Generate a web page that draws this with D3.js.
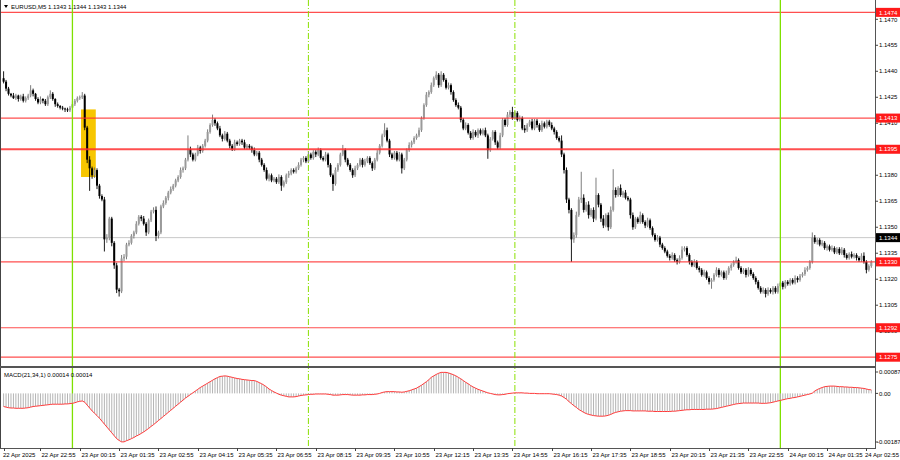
<!DOCTYPE html>
<html><head><meta charset="utf-8">
<script src="https://cdn.jsdelivr.net/npm/d3@7/dist/d3.min.js"></script>
<style>body{margin:0;background:#fff;}svg{display:block;font-family:"Liberation Sans",Arial,sans-serif;}</style>
</head><body><svg id="c" width="900" height="460"></svg>
<script>
// ---------------- data ----------------
const symbolTitle = "EURUSD,M5";
const headerQuote = "1.1343 1.1344 1.1343 1.1344";
const macdTitle = "MACD(21,34,1) 0.00014 0.00014";
const firstBarTime = "2025-04-22T21:40";
const barMinutes = 5;
const basePrice = 1.13;           // closes are pips above this
const firstOpenPips = 136;
const closePips = [
134,130,127,126,124.5,126,124,125.5,123,124.5,
126,129,127,124,122,124,123,121,125,127,
124,121,120,119,118.5,118,117.5,119,121,123,
124.5,125,126,107.5,89,84,80,83,74,68,
66,43,44,55,41,28,14,13,32,33,
40,41,45,47,52,56,55,52,47,54,
59,60,45,47,62,64,67,70,72,74,
77,79,83,84,89,95,92,89,92,96,
94,97,100,105,109,112,110,107,103,101,
104,100,97,95,99,98,100,99,96,97,
96,94.5,92,93,89,86,83,78,80,77,
78,76,79,74,76,80,81,83,82,84,
86,89,90,88,92,90,93.5,92,94.5,90,
89,92,86,80,75,83,86,92,94.5,89,
86,83,80,84,86,89,86,88,90,87,
84,89,93,97,103,106,100,92,90,93,
89,92,84,89,94.5,97.5,99,101.5,103,106,
113,120.5,126.5,128,132,136,138,132,138,135,
130.5,132,128,123.4,120.5,119,112,107,109,104.5,
101.5,105,103,106,104,106,103,94.5,101,105,
99,96,103,112,109,115,116.5,113,116,112,
113,107,106,109,111,107,111.5,109,106,110,
108,111,109,107,105,101.5,100,92,83,66,
60,43,45.5,57,66,67,60,63,57,60,
55,68.6,63,55,51,57,50,60,71.5,68.6,
72.7,68.6,70,67,66,57,50,55,53,57,
53,51,54,49.5,45.6,42.7,44,40,38,36,
33.5,32.3,34,31,30,32.3,37,38,34,30,
28,30,26.5,25.4,22.5,24,20.7,18.5,19.6,22.5,
25.4,22.5,24,20.7,23.5,26.5,28.2,30,31,26.5,
24,25.4,22.5,25.4,23,20.7,18.5,15,12.7,13.8,
11.5,13.8,12.7,15,12.7,16,18,15.6,18.5,17.3,
19.6,18,20.7,19.6,22,23,25.4,26.5,30,44,
41.5,42.7,40,41,38,39,37,38,35.5,37.5,
35,37,34,32.3,34.5,33,34,32.3,31,33.5,
30,25.4,27.6,30];
const upperWick = [
4,1,1,.5,1.5,1,.5,1,1.5,1,
1,3,1,.5,1,1.5,.5,1,1,2,
1,.5,1,.5,1,.5,1,1,1.5,1,
1,1,2,1,1,2,1,1.5,1,1,
1,1.5,2,1,1,1,1.5,1,2,1.5,
1,1.5,1,1,1.5,1,1,1.5,1,1,
1,1.5,2,1,1,1.5,1,1,1.5,1,
1,1,1.5,1,1,8,1.5,1,1,1.5,
1,1,1,1.5,1,3,1,1,1.5,1,
1.5,1,1,1,1.5,1,1,1,1.5,1,
1,1,1.5,1,1,1,1,1.5,1,1,
1,1,1.5,1,1,1,1.5,1,1,1,
1.5,1,1,1,2,1,1,1,1.5,1,
1,1.5,1,1,1,1.5,1,1,3,1,
1,1,1,1.5,1,1,1,1.5,1,1,
1,1,1.5,1,1,4,1.5,1,1,1,
1,1.5,1,1,1,1.5,1,1,1,1.5,
1,1,1.5,1,1.5,1,2,1,2,1,
1,1.5,1,1,1,1.5,1,1,1.5,1,
1,1.5,1,1,1,1,1.5,1,1,1,
1,1,1.5,1,1,1.5,1,3,1,1,
1.5,1,2,1,1,1.5,1,1,1,1.5,
1,1,1,1.5,1,1,1,3,1,1.5,
1,1,1.5,2,1.5,15,2,1.5,2,1,
1.5,10,1,1,2,1,1.5,2,12,1.5,
1,2,1,1.5,1,1,1.5,1,1,2,
1,1,1.5,1,1,1,1.5,1,1,1,
1,1,1.5,1,1,1.5,2,1,1,1,
1,1.5,1,1,1,1.5,1,1,1,1,
1.5,1,1,1,1.5,1,1,1,2,1,
1,1,1,1.5,1,1,1,1,1,1.5,
1,1.5,1,1,1,1.5,1,1,1,1,
1,1,1.5,1,1,1,1.5,1,1,3,
1.5,1,1,1.5,1,1,1,1.5,1,1,
1,1.5,1,1,1,1.5,1,1,1,1.5,
2,1,1,1];
const lowerWick = [
1,1.5,1,1,.5,1,1.5,1,1,1,
1,1,1.5,1,1,1,1.5,1,1,1,
1,1.5,1,1,1,1.5,1,1,1,1,
1,1,1,1.5,2,13,2,1.5,2,1.5,
1,7,2,1.5,2,2,2,3,1,1.5,
1.5,1,1,1.5,1,1,1.5,1,2,1,
1,1,3,1.5,1,1,1,1.5,1,1,
1,1,1,1.5,1,1,1.5,1,1,1,
1.5,1,1,1,1,1,1.5,1,1,1.5,
1,1,1.5,1,1,1,1,1.5,1,1,
1,1.5,1,1,1.5,1,1,1,1.5,1,
1,1,1,3,1,1,1.5,1,1,1,
1,1,1.5,1,1,1,1,1.5,1,1,
1,1,1.5,1,4,1,1,1,1,1.5,
1,1,1.5,1,1,1,1.5,1,1,1,
1.5,1,1,1,1,1,1,1.5,1,1,
1,1,3,1,1,1,1.5,1,1,1,
1,1,1,1.5,1,1,1,1.5,1,1,
1,1,1.5,1,1,1,1.5,1,1,1,
1,1,1,1.5,1,1,1,5,1,1,
1.5,1,1,1,1,1,1.5,1,1,1,
1,1,1.5,1,1,1,1,1.5,1,1,
1,1,1,1,1.5,1,1,1.5,2,2,
2,13,2,1.5,1,2,1.5,1,2,1,
2,1,1.5,2,1.5,1,2,1,1,1.5,
1,1,1.5,1,1,2,1.5,1,1,1,
1,1.5,1,1,1,1,1,1.5,1,1,
1,1.5,1,1,1.5,1,1,1,1,1.5,
1,1,1,1.5,1,1,1,1.5,4,1,
1,1.5,1,1,1,1,1.5,1,1,1,
1,1,1.5,1,1,1,1.5,1,1,1,
2,1,1,1.5,1,1,1,1.5,1,1,
1,1,1,1.5,1,1,1,1,1,1,
1,1.5,1,1,1,1.5,1,1,1,1,
1,1,1.5,1,1,1,1,1.5,1,1,
1,2,1,1];
const macdValues = [ // units of 0.00001
-45,-47,-49,-50,-50,-51,-51,-51,-51,-50,
-49,-47,-45,-44,-43,-42,-41,-40,-39,-38,
-37,-37,-37,-37,-37,-36,-36,-35,-34,-32,
-29,-27,-26,-30,-40,-50,-60,-68,-76,-85,
-95,-105,-115,-125,-135,-145,-155,-161,-166,-166,
-162,-159,-155,-151,-146,-142,-137,-132,-126,-120,
-113,-107,-100,-93,-86,-79,-72,-65,-58,-51,
-44,-37,-30,-23,-16,-10,-4,2,8,14,
20,25,30,35,40,45,50,54,58,59,
60,59,57,55,53,51,50,48,47,46,
45,44,44,41,37,33,28,22,15,10,
5,1,-3,-6,-8,-10,-12,-12,-12,-11,
-9,-7,-6,-5,-4,-3,-3,-2,-2,-2,
-2,-2,-3,-4,-6,-6,-6,-5,-4,-4,
-4,-5,-6,-6,-6,-6,-5,-5,-4,-4,
-4,-3,-2,0,3,5,6,6,6,6,
5,5,4,5,7,9,12,15,18,23,
28,34,40,47,55,60,65,69,72,72,
72,70,67,64,60,55,50,44,38,33,
27,22,18,14,11,8,5,2,0,-2,
-4,-5,-5,-4,-3,-1,0,1,2,2,
2,2,1,1,0,0,0,-1,-1,-1,
-1,-1,-1,-2,-3,-4,-6,-9,-14,-20,
-28,-35,-42,-48,-55,-60,-65,-69,-72,-74,
-76,-77,-78,-78,-78,-77,-75,-72,-68,-65,
-63,-61,-60,-59,-59,-59,-60,-60,-60,-60,
-60,-60,-61,-61,-61,-62,-62,-62,-62,-62,
-62,-62,-61,-61,-60,-59,-58,-57,-56,-56,
-55,-55,-55,-55,-55,-55,-54,-54,-54,-53,
-52,-50,-48,-46,-44,-42,-40,-38,-36,-35,
-34,-33,-33,-33,-33,-33,-33,-33,-34,-34,
-34,-33,-32,-30,-28,-26,-24,-22,-20,-18,
-17,-15,-14,-12,-10,-8,-6,-4,-2,1,
8,13,17,20,23,24,25,25,25,24,
23,23,22,22,21,21,20,20,19,18,
17,15,13,12];
const levelPrices = [1.1474, 1.1413, 1.1395, 1.1330, 1.1292, 1.1275];
const levelLabels = ["1.1474","1.1413","1.1395","1.1330","1.1292","1.1275"];
const priceTicks = [1.1275,1.1290,1.1305,1.1320,1.1335,1.1350,1.1365,1.1380,1.1395,1.1410,1.1425,1.1440,1.1455,1.1470];
const currentPrice = 1.1344;
const macdTicks = [0.00087, 0.0, -0.00187];
const macdTickLabels = ["0.00087","0.00","-0.00187"];
const xTickLabels = ["22 Apr 2025","22 Apr 22:55","23 Apr 00:15","23 Apr 01:35","23 Apr 02:55","23 Apr 04:15",
 "23 Apr 05:35","23 Apr 06:55","23 Apr 08:15","23 Apr 09:35","23 Apr 10:55","23 Apr 12:15","23 Apr 13:35",
 "23 Apr 14:55","23 Apr 16:15","23 Apr 17:35","23 Apr 18:55","23 Apr 20:15","23 Apr 21:35","23 Apr 22:55",
 "24 Apr 00:15","24 Apr 01:35","24 Apr 02:55"];
const dayLines = ["2025-04-23T00:00","2025-04-24T00:00"];
const sessionLines = ["2025-04-23T08:00","2025-04-23T15:00"];
const zoneTimes = ["2025-04-23T00:20","2025-04-23T00:45"];
const zonePrices = [1.13790, 1.14180];

// ---------------- chart ----------------
const svg = d3.select("#c");
const W = 900, axisX = 875, mainBottom = 366, macdTop = 368, macdBottom = 448;
const parseISO = d3.timeParse("%Y-%m-%dT%H:%M");
const t0 = parseISO(firstBarTime);
const N = closePips.length;
const bars = closePips.map((c, i) => {
  const o = i === 0 ? firstOpenPips : closePips[i - 1];
  const hi = Math.max(o, c) + upperWick[i], lo = Math.min(o, c) - lowerWick[i];
  const p = v => basePrice + v / 10000;
  return { t: d3.timeMinute.offset(t0, i * barMinutes), o: p(o), c: p(c), h: p(hi), l: p(lo), m: macdValues[i] / 100000 };
});
const x = d3.scaleTime().domain([bars[0].t, bars[N - 1].t]).range([3.6, 871.3]);
const y = d3.scaleLinear().domain([1.1275, 1.1470]).range([357.2, 19.3]);
const ym = d3.scaleLinear().domain([-0.00187, 0.00087]).range([macdBottom, macdTop]);
const barW = (x(bars[1].t) - x(bars[0].t));

svg.append("rect").attr("width", W).attr("height", 460).attr("fill", "#fff");
svg.append("clipPath").attr("id","mainClip").append("rect").attr("x",0).attr("y",0).attr("width",axisX).attr("height",mainBottom);
svg.append("clipPath").attr("id","macdClip").append("rect").attr("x",0).attr("y",macdTop).attr("width",axisX).attr("height",macdBottom-macdTop);

const main = svg.append("g").attr("clip-path","url(#mainClip)");
// yellow zone
const zt = zoneTimes.map(parseISO);
main.append("rect")
  .attr("x", x(zt[0]) - barW / 2).attr("width", x(zt[1]) - x(zt[0]) + barW)
  .attr("y", y(zonePrices[1])).attr("height", y(zonePrices[0]) - y(zonePrices[1]))
  .attr("fill", "#f7c600");
// current price line
main.append("line").attr("x1",0).attr("x2",axisX).attr("y1",y(currentPrice)).attr("y2",y(currentPrice))
  .attr("stroke","#c8c8c8").attr("stroke-width",1);

// vertical time lines (both panels)
const vg = svg.append("g");
dayLines.map(parseISO).forEach(t => {
  vg.append("line").attr("x1",x(t)).attr("x2",x(t)).attr("y1",0).attr("y2",macdBottom)
    .attr("stroke","#7fe000").attr("stroke-width",1.3);
});
sessionLines.map(parseISO).forEach(t => {
  vg.append("line").attr("x1",x(t)).attr("x2",x(t)).attr("y1",0).attr("y2",macdBottom)
    .attr("stroke","#8ae000").attr("stroke-width",1).attr("stroke-dasharray","6,2,1,2");
});

// candles
const cg = main.append("g");
bars.forEach(b => {
  const bull = b.c >= b.o;
  const cx = x(b.t);
  const col = bull ? "#6e6e6e" : "#000";
  cg.append("line").attr("x1",cx).attr("x2",cx).attr("y1",y(b.h)).attr("y2",y(b.l))
    .attr("stroke",col).attr("stroke-width",0.9);
  const top = y(Math.max(b.o,b.c)), bot = y(Math.min(b.o,b.c));
  cg.append("rect").attr("x",cx-1).attr("width",2).attr("y",top).attr("height",Math.max(0.9,bot-top))
    .attr("fill", bull ? "#9a9a9a" : "#000");
});

// red levels
levelPrices.forEach((p, i) => {
  main.append("line").attr("x1",0).attr("x2",axisX).attr("y1",y(p)).attr("y2",y(p))
    .attr("stroke","#ff3030").attr("stroke-opacity",0.85).attr("stroke-width", p === 1.1395 ? 2 : 1.2);
});

// MACD panel
const mg = svg.append("g").attr("clip-path","url(#macdClip)");
bars.forEach(b => {
  mg.append("line").attr("x1",x(b.t)).attr("x2",x(b.t)).attr("y1",ym(0)).attr("y2",ym(b.m))
    .attr("stroke","#b4b4b4").attr("stroke-width",1);
});
mg.append("path").datum(bars)
  .attr("d", d3.line().x(b => x(b.t)).y(b => ym(b.m)))
  .attr("fill","none").attr("stroke","#ff3a3a").attr("stroke-width",1);

// frame
svg.append("line").attr("x1",0.5).attr("x2",0.5).attr("y1",0).attr("y2",macdBottom).attr("stroke","#444");
svg.append("line").attr("x1",axisX+0.5).attr("x2",axisX+0.5).attr("y1",0).attr("y2",macdBottom).attr("stroke","#555");
svg.append("rect").attr("x",0).attr("y",mainBottom).attr("width",axisX+1).attr("height",2).attr("fill","#555");
svg.append("line").attr("x1",0).attr("x2",axisX+1).attr("y1",macdBottom+0.5).attr("y2",macdBottom+0.5).attr("stroke","#555");

const fs = 6.0;
// right price axis
const ax = svg.append("g").attr("font-size", fs).attr("fill","#000");
priceTicks.forEach(p => {
  ax.append("line").attr("x1",axisX).attr("x2",axisX+3).attr("y1",y(p)).attr("y2",y(p)).attr("stroke","#444");
  ax.append("text").attr("x",axisX+4).attr("y",y(p)+2.2).text(p.toFixed(4));
});
levelPrices.forEach((p, i) => {
  ax.append("rect").attr("x",axisX+1).attr("y",y(p)-4.5).attr("width",W-axisX-1).attr("height",9).attr("fill","#ff1a1a");
  ax.append("text").attr("x",axisX+4).attr("y",y(p)+2.2).attr("fill","#fff").text(levelLabels[i]);
});
ax.append("rect").attr("x",axisX+1).attr("y",y(currentPrice)-4.5).attr("width",W-axisX-1).attr("height",9).attr("fill","#000");
ax.append("text").attr("x",axisX+4).attr("y",y(currentPrice)+2.2).attr("fill","#fff").text(currentPrice.toFixed(4));

// MACD axis
macdTicks.forEach((v, i) => {
  const yy = i === 0 ? macdTop + 4 : (i === 2 ? macdBottom - 6 : ym(v));
  ax.append("line").attr("x1",axisX).attr("x2",axisX+3).attr("y1",yy).attr("y2",yy).attr("stroke","#444");
  ax.append("text").attr("x",i === 2 ? axisX+2 : axisX+4).attr("y",yy+2.2).text(macdTickLabels[i]);
});

// time axis
const parseLbl = s => /\d\d:\d\d$/.test(s) ? d3.timeParse("%d %b %Y %H:%M")(s.replace(/(\d\d:\d\d)$/, "2025 $1")) : d3.timeParse("%d %b %Y %H:%M")(s + " 21:40");
xTickLabels.forEach((s, k) => {
  const t = parseLbl(s);
  const xx = Math.round(x(t)) + 0.5;
  ax.append("line").attr("x1",xx).attr("x2",xx).attr("y1",macdBottom).attr("y2",macdBottom+3).attr("stroke","#444");
  const last = k === xTickLabels.length - 1;
  ax.append("text").attr("x",k === 0 ? 3 : (last ? W - 1 : xx+1))
    .attr("text-anchor", last ? "end" : "start")
    .attr("y",macdBottom+8.5).text(s);
});

// titles
const tg = svg.append("g").attr("font-size", fs).attr("fill","#000");
tg.append("path").attr("d","M4,5 L8,5 L6,8 Z").attr("fill","#000");
tg.append("text").attr("x",11).attr("y",8.8).text(symbolTitle + "  " + headerQuote);
tg.append("text").attr("x",4).attr("y",macdTop+9).text(macdTitle);
</script></body></html>
